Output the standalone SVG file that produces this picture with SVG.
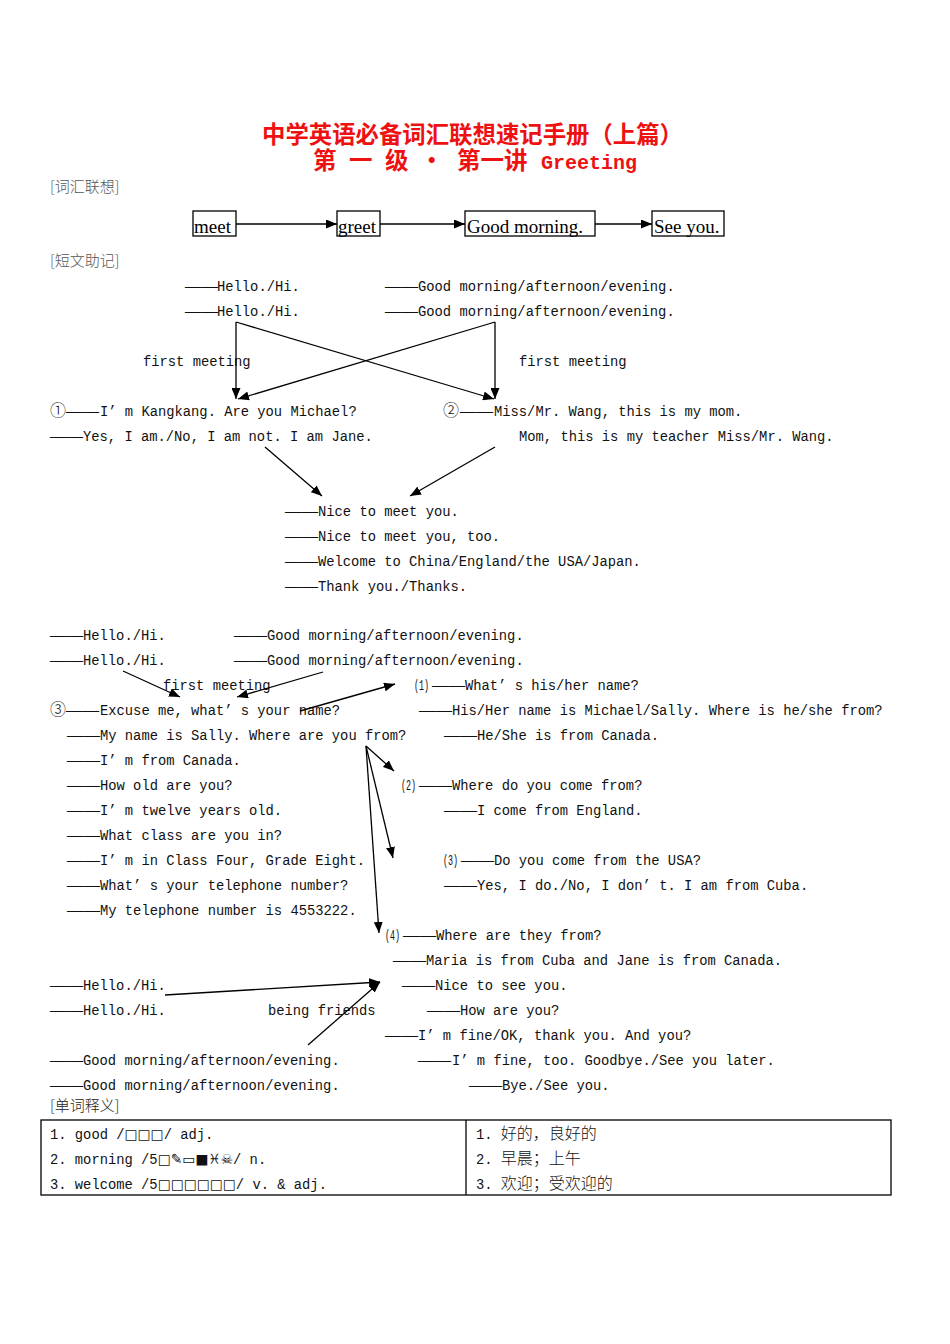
<svg xmlns="http://www.w3.org/2000/svg" width="950" height="1344" viewBox="0 0 950 1344">
<defs>
<marker id="ah" markerUnits="userSpaceOnUse" markerWidth="11" markerHeight="9" refX="11" refY="4.5" orient="auto">
<path d="M0,0 L11,4.5 L0,9 z" fill="#000"/>
</marker>
<style>
text{font-family:"Liberation Mono","DejaVu Sans Mono","Noto Sans CJK SC",monospace;font-size:13.8px;fill:#111}
.d{font-family:"Liberation Serif",serif;font-size:16.5px}
.ttl{font-family:"Noto Sans CJK SC",sans-serif;font-size:23.5px;fill:#ee1111;font-weight:bold}
.ttm{font-family:"Liberation Mono",monospace;font-size:20px;fill:#ee1111;font-weight:bold}
.hd{font-family:"Noto Sans CJK SC",sans-serif;font-size:15px;fill:#555;font-weight:300}
.bx{font-family:"Liberation Serif",serif;font-size:19px;fill:#000}
.cn{font-family:"Noto Sans CJK SC",sans-serif;font-size:16px;fill:#111;font-weight:300}
.sym{font-family:"DejaVu Sans",sans-serif}
.ci{font-family:"Noto Sans CJK SC",sans-serif;font-size:16px;font-weight:300}
rect{fill:#fff;stroke:#000;stroke-width:1.3}
.c line{stroke:#000;stroke-width:1.3;marker-end:url(#ah)}
</style>
</defs>
<rect x="0" y="0" width="950" height="1344" style="stroke:none"/>

<g id="title">
<text class="ttl" x="262" y="143" textLength="421" lengthAdjust="spacingAndGlyphs">中学英语必备词汇联想速记手册（上篇）</text>
<text class="ttl" y="169"><tspan x="313">第</tspan><tspan x="349">一</tspan><tspan x="385">级</tspan><tspan x="420">·</tspan><tspan x="457">第一讲</tspan></text>
<text class="ttm" x="541" y="169">Greeting</text>
</g>

<g id="headers">
<text class="hd" x="50" y="192">[词汇联想]</text>
<text class="hd" x="50" y="266">[短文助记]</text>
<text class="hd" x="50" y="1111" style="fill:#222">[单词释义]</text>
</g>

<g id="n-meet"><rect x="193" y="211" width="43" height="25"/><text class="bx" x="194" y="233">meet</text></g>
<g id="n-greet"><rect x="337" y="211" width="43" height="25"/><text class="bx" x="338" y="233">greet</text></g>
<g id="n-goodmorning"><rect x="465" y="211" width="130" height="25"/><text class="bx" x="467" y="233">Good morning.</text></g>
<g id="n-seeyou"><rect x="652" y="211" width="72" height="25"/><text class="bx" x="654" y="233">See you.</text></g>

<g id="sec2-greet">
<text x="185" y="291"><tspan class="d">——</tspan><tspan x="217">Hello./Hi.</tspan></text>
<text x="385" y="291"><tspan class="d">——</tspan><tspan x="418">Good morning/afternoon/evening.</tspan></text>
<text x="185" y="316"><tspan class="d">——</tspan><tspan x="217">Hello./Hi.</tspan></text>
<text x="385" y="316"><tspan class="d">——</tspan><tspan x="418">Good morning/afternoon/evening.</tspan></text>
</g>
<g id="sec2-labels">
<text x="143" y="366">first meeting</text>
<text x="519" y="366">first meeting</text>
</g>
<g id="sec2-d1">
<text x="50" y="416"><tspan class="ci">①</tspan><tspan class="d" x="66">——</tspan><tspan x="100">I’ m Kangkang. Are you Michael?</tspan></text>
<text x="50" y="441"><tspan class="d">——</tspan><tspan x="83">Yes, I am./No, I am not. I am Jane.</tspan></text>
</g>
<g id="sec2-d2">
<text x="443" y="416"><tspan class="ci">②</tspan><tspan class="d" x="460">——</tspan><tspan x="494">Miss/Mr. Wang, this is my mom.</tspan></text>
<text x="519" y="441">Mom, this is my teacher Miss/Mr. Wang.</text>
</g>
<g id="sec2-nice">
<text x="285" y="516"><tspan class="d">——</tspan><tspan x="318">Nice to meet you.</tspan></text>
<text x="285" y="541"><tspan class="d">——</tspan><tspan x="318">Nice to meet you, too.</tspan></text>
<text x="285" y="566"><tspan class="d">——</tspan><tspan x="318">Welcome to China/England/the USA/Japan.</tspan></text>
<text x="285" y="591"><tspan class="d">——</tspan><tspan x="318">Thank you./Thanks.</tspan></text>
</g>

<g id="sec3-greet">
<text x="50" y="640"><tspan class="d">——</tspan><tspan x="83">Hello./Hi.</tspan></text>
<text x="234" y="640"><tspan class="d">——</tspan><tspan x="267">Good morning/afternoon/evening.</tspan></text>
<text x="50" y="665"><tspan class="d">——</tspan><tspan x="83">Hello./Hi.</tspan></text>
<text x="234" y="665"><tspan class="d">——</tspan><tspan x="267">Good morning/afternoon/evening.</tspan></text>
<text x="163" y="690">first meeting</text>
</g>
<g id="sec3-main">
<text x="50" y="715"><tspan class="ci">③</tspan><tspan class="d" x="66">——</tspan><tspan x="100">Excuse me, what’ s your name?</tspan></text>
<text x="67" y="740"><tspan class="d">——</tspan><tspan x="100">My name is Sally. Where are you from?</tspan></text>
<text x="67" y="765"><tspan class="d">——</tspan><tspan x="100">I’ m from Canada.</tspan></text>
<text x="67" y="790"><tspan class="d">——</tspan><tspan x="100">How old are you?</tspan></text>
<text x="67" y="815"><tspan class="d">——</tspan><tspan x="100">I’ m twelve years old.</tspan></text>
<text x="67" y="840"><tspan class="d">——</tspan><tspan x="100">What class are you in?</tspan></text>
<text x="67" y="865"><tspan class="d">——</tspan><tspan x="100">I’ m in Class Four, Grade Eight.</tspan></text>
<text x="67" y="890"><tspan class="d">——</tspan><tspan x="100">What’ s your telephone number?</tspan></text>
<text x="67" y="915"><tspan class="d">——</tspan><tspan x="100">My telephone number is 4553222.</tspan></text>
</g>
<g id="sec3-q1">
<text x="414" y="690" textLength="15" lengthAdjust="spacingAndGlyphs">(1)</text>
<text x="432" y="690"><tspan class="d">——</tspan><tspan x="465">What’ s his/her name?</tspan></text>
<text x="419" y="715"><tspan class="d">——</tspan><tspan x="452">His/Her name is Michael/Sally. Where is he/she from?</tspan></text>
<text x="444" y="740"><tspan class="d">——</tspan><tspan x="477">He/She is from Canada.</tspan></text>
</g>
<g id="sec3-q2">
<text x="401" y="790" textLength="15" lengthAdjust="spacingAndGlyphs">(2)</text>
<text x="419" y="790"><tspan class="d">——</tspan><tspan x="452">Where do you come from?</tspan></text>
<text x="444" y="815"><tspan class="d">——</tspan><tspan x="477">I come from England.</tspan></text>
</g>
<g id="sec3-q3">
<text x="443" y="865" textLength="15" lengthAdjust="spacingAndGlyphs">(3)</text>
<text x="461" y="865"><tspan class="d">——</tspan><tspan x="494">Do you come from the USA?</tspan></text>
<text x="444" y="890"><tspan class="d">——</tspan><tspan x="477">Yes, I do./No, I don’ t. I am from Cuba.</tspan></text>
</g>
<g id="sec3-q4">
<text x="385" y="940" textLength="15" lengthAdjust="spacingAndGlyphs">(4)</text>
<text x="403" y="940"><tspan class="d">——</tspan><tspan x="436">Where are they from?</tspan></text>
<text x="393" y="965"><tspan class="d">——</tspan><tspan x="426">Maria is from Cuba and Jane is from Canada.</tspan></text>
</g>
<g id="sec4-greet">
<text x="50" y="990"><tspan class="d">——</tspan><tspan x="83">Hello./Hi.</tspan></text>
<text x="50" y="1015"><tspan class="d">——</tspan><tspan x="83">Hello./Hi.</tspan></text>
<text x="268" y="1015">being friends</text>
<text x="50" y="1065"><tspan class="d">——</tspan><tspan x="83">Good morning/afternoon/evening.</tspan></text>
<text x="50" y="1090"><tspan class="d">——</tspan><tspan x="83">Good morning/afternoon/evening.</tspan></text>
</g>
<g id="sec4-friends">
<text x="402" y="990"><tspan class="d">——</tspan><tspan x="435">Nice to see you.</tspan></text>
<text x="427" y="1015"><tspan class="d">——</tspan><tspan x="460">How are you?</tspan></text>
<text x="385" y="1040"><tspan class="d">——</tspan><tspan x="418">I’ m fine/OK, thank you. And you?</tspan></text>
<text x="418" y="1065"><tspan class="d">——</tspan><tspan x="452">I’ m fine, too. Goodbye./See you later.</tspan></text>
<text x="469" y="1090"><tspan class="d">——</tspan><tspan x="502">Bye./See you.</tspan></text>
</g>

<g id="table">
<rect x="41" y="1120" width="850" height="75"/>
<line x1="466" y1="1120" x2="466" y2="1195" stroke="#000" stroke-width="1.3"/>
<text x="50" y="1139">1. good /<tspan class="sym">□□□</tspan>/ adj.</text>
<text x="50" y="1164">2. morning /5<tspan class="sym">□✎▭■♓☠</tspan>/ n.</text>
<text x="50" y="1189">3. welcome /5<tspan class="sym">□□□□□□</tspan>/ v. &amp; adj.</text>
<text x="476" y="1139">1. <tspan class="cn">好的，良好的</tspan></text>
<text x="476" y="1164">2. <tspan class="cn">早晨；上午</tspan></text>
<text x="476" y="1189">3. <tspan class="cn">欢迎；受欢迎的</tspan></text>
</g>

<g id="connectors" class="c">
<line x1="236" y1="224" x2="337" y2="224"/>
<line x1="380" y1="224" x2="465" y2="224"/>
<line x1="595" y1="224" x2="652" y2="224"/>
<line x1="236" y1="322" x2="236" y2="399"/>
<line x1="236" y1="322" x2="494" y2="399"/>
<line x1="495" y1="322" x2="495" y2="399"/>
<line x1="495" y1="322" x2="238" y2="399"/>
<line x1="265" y1="447" x2="322" y2="496"/>
<line x1="495" y1="447" x2="410" y2="496"/>
<line x1="123" y1="671" x2="180" y2="697"/>
<line x1="323" y1="672" x2="237" y2="697"/>
<line x1="300" y1="711" x2="395" y2="684"/>
<line x1="366" y1="746" x2="394" y2="771"/>
<line x1="366" y1="746" x2="393" y2="858"/>
<line x1="366" y1="746" x2="379" y2="933"/>
<line x1="165" y1="995" x2="380" y2="982"/>
<line x1="308" y1="1045" x2="380" y2="982"/>
</g>
</svg>
